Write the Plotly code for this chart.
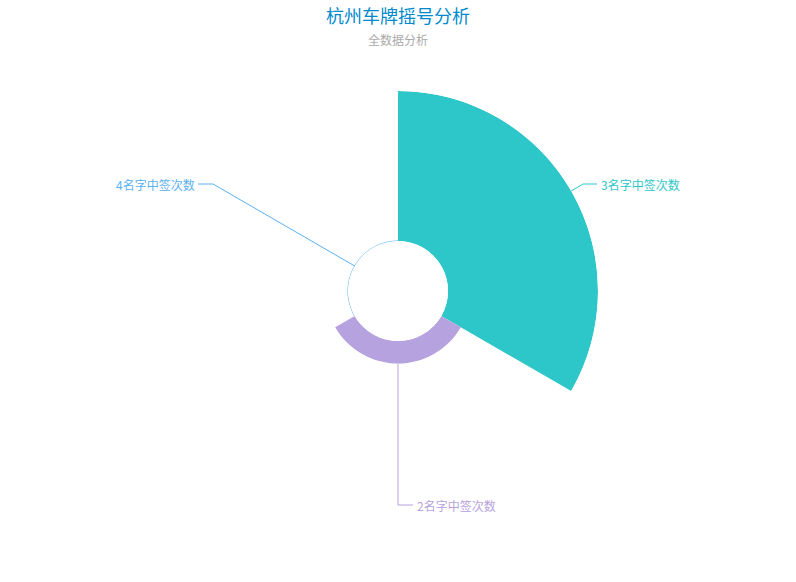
import math
import plotly.graph_objects as go

# ---- data ----
categories = ["3名字中签次数", "2名字中签次数", "4名字中签次数"]
values = [20, 3, 0]
colors = ["#2ec7c9", "#b6a2de", "#5ab1ef"]
title_text = "杭州车牌摇号分析"
subtitle_text = "全数据分析"

# ---- layout geometry (pixels) ----
W, H = 796, 582
CX, CY = 398, 291
R = 200
R0 = 50
vmax = max(values)
n = len(values)
span = 360 / n
thetas = [span * i + span / 2 for i in range(n)]

fig = go.Figure()
fig.add_trace(go.Barpolar(
    r=values, theta=thetas, width=[span] * n,
    marker=dict(color=colors, line=dict(width=0)),
    hoverinfo="skip", showlegend=False,
))
# zero-valued slices drawn as a thin arc at the inner radius
for v, t, c in zip(values, thetas, colors):
    if v == 0:
        ts = [t - span / 2 + span * k / 60 for k in range(61)]
        fig.add_trace(go.Scatterpolar(
            r=[0] * len(ts), theta=ts, mode="lines",
            line=dict(color=c, width=1), hoverinfo="skip", showlegend=False))


def px(x):
    return x / W


def py(y):
    return 1 - y / H


fig.update_layout(
    width=W, height=H,
    margin=dict(l=0, r=0, t=0, b=0),
    paper_bgcolor="white", plot_bgcolor="white",
    polar=dict(
        domain=dict(x=[px(CX - R), px(CX + R)], y=[py(CY + R), py(CY - R)]),
        hole=R0 / R,
        bgcolor="white",
        radialaxis=dict(range=[0, vmax], visible=False, showgrid=False),
        angularaxis=dict(rotation=90, direction="clockwise", visible=False,
                         showgrid=False),
        barmode="overlay",
    ),
    font=dict(family="Noto Sans CJK SC, sans-serif"),
)

# ---- leader lines and labels ----
# per-label elbow / text placement (pixels), mirroring ECharts' label layout
label_layout = [
    dict(elbow=(583, 184), end=(597, 184), anchor="left"),
    dict(elbow=(398, 505), end=(413, 505), anchor="left"),
    dict(elbow=(213, 184), end=(198, 184), anchor="right"),
]
shapes = []
annotations = []
for v, t, c, cat, lay in zip(values, thetas, colors, categories, label_layout):
    rr = R0 + (R - R0) * v / vmax
    a = math.radians(t)
    sx, sy = CX + rr * math.sin(a), CY - rr * math.cos(a)
    ex, ey = lay["elbow"]
    fx, fy = lay["end"]
    shapes.append(dict(
        type="path", xref="paper", yref="paper",
        path=f"M {px(sx)},{py(sy)} L {px(ex)},{py(ey)} L {px(fx)},{py(fy)}",
        line=dict(color=c, width=1)))
    annotations.append(dict(
        x=px(fx + (2 if lay["anchor"] == "left" else -1)), y=py(fy),
        xref="paper", yref="paper", text=cat, showarrow=False,
        xanchor=lay["anchor"], yanchor="middle",
        font=dict(size=12, color=c)))

annotations.append(dict(x=0.5, y=py(15), xref="paper", yref="paper",
                        text=title_text, showarrow=False, xanchor="center",
                        yanchor="middle", font=dict(size=18, color="#008acd")))
annotations.append(dict(x=0.5, y=py(40), xref="paper", yref="paper",
                        text=subtitle_text, showarrow=False, xanchor="center",
                        yanchor="middle", font=dict(size=12, color="#aaaaaa")))
fig.update_layout(shapes=shapes, annotations=annotations)

fig.write_html("out.html")
